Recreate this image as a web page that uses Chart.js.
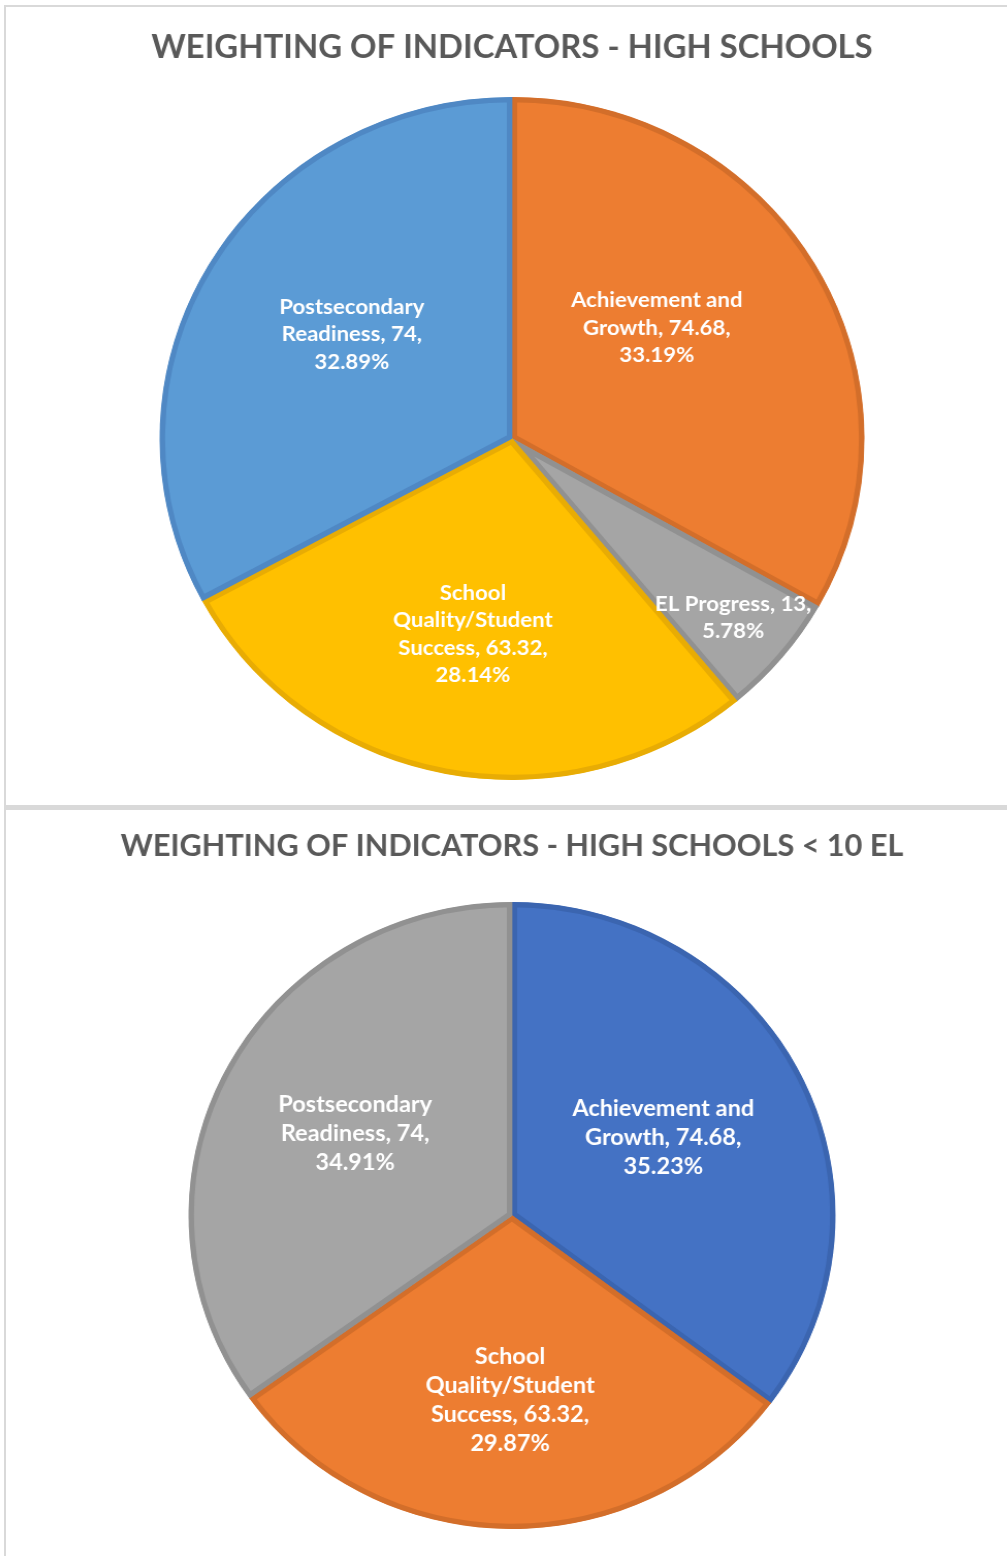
<!DOCTYPE html>
<html><head><meta charset="utf-8">
<script src="https://cdn.jsdelivr.net/npm/chart.js@4"></script>
<style>
html,body{margin:0;padding:0;background:#fff;}
body{width:1007px;height:1556px;position:relative;overflow:hidden;}
.frame{position:absolute;background:#d9d9d9;}
.wrap{position:absolute;left:0;width:1007px;transform:scaleX(1.032);transform-origin:512px 0;}
canvas{display:block;}
</style></head><body>
<div class="frame" style="left:4px;top:5px;width:1003px;height:2px"></div>
<div class="frame" style="left:4px;top:5px;width:2px;height:1551px"></div>
<div class="frame" style="left:4px;top:805px;width:1003px;height:5px"></div>
<div class="wrap" style="top:0;height:805px"><canvas id="c1" width="1007" height="805"></canvas></div>
<div class="wrap" style="top:806px;height:750px"><canvas id="c2" width="1007" height="750"></canvas></div>
<script>
// ---- data ----
const hsTitle = 'WEIGHTING OF INDICATORS - HIGH SCHOOLS';
const hsCategories = ['Achievement and Growth', 'EL Progress', 'School Quality/Student Success', 'Postsecondary Readiness'];
const hsValues = [74.68, 13, 63.32, 74];

const hs10Title = 'WEIGHTING OF INDICATORS - HIGH SCHOOLS < 10 EL';
const hs10Categories = ['Achievement and Growth', 'School Quality/Student Success', 'Postsecondary Readiness'];
const hs10Values = [74.68, 63.32, 74];

// ---- label plugin ----
function wrapText(ctx, text, maxW) {
  const words = text.split(' ');
  const lines = [];
  let cur = '';
  for (const w of words) {
    const t = cur ? cur + ' ' + w : w;
    if (cur && ctx.measureText(t).width > maxW) { lines.push(cur); cur = w; }
    else cur = t;
  }
  if (cur) lines.push(cur);
  return lines;
}
const sliceLabels = {
  id: 'sliceLabels',
  afterDatasetsDraw(chart, args, opts) {
    const ctx = chart.ctx;
    const ds = chart.data.datasets[0];
    const meta = chart.getDatasetMeta(0);
    const total = ds.data.reduce((a, b) => a + b, 0);
    ctx.save();
    ctx.font = 'bold ' + opts.size + 'px Lato';
    ctx.fillStyle = '#ffffff';
    ctx.textAlign = 'center';
    ctx.textBaseline = 'middle';
    meta.data.forEach((arc, i) => {
      const p = arc.getProps(['x', 'y', 'startAngle', 'endAngle', 'outerRadius'], true);
      const mid = (p.startAngle + p.endAngle) / 2 + (opts.angleShift[i] || 0) * Math.PI / 180;
      const r = p.outerRadius * opts.radial[i];
      const cx = p.x + Math.cos(mid) * r;
      const cy = p.y + Math.sin(mid) * r;
      const v = ds.data[i];
      const text = chart.data.labels[i] + ', ' + String(v) + ', ' + (v / total * 100).toFixed(2) + '%';
      const lines = wrapText(ctx, text, opts.maxWidth);
      lines.forEach((ln, k) => ctx.fillText(ln, cx, cy + (k - (lines.length - 1) / 2) * opts.lineHeight));
    });
    ctx.restore();
  }
};

function makePie(id, title, labels, values, colors, borders, cfg) {
  return new Chart(document.getElementById(id), {
    type: 'pie',
    data: {
      labels: labels,
      datasets: [{
        data: values,
        backgroundColor: colors,
        borderColor: borders,
        borderWidth: 5,
        borderAlign: 'inner'
      }]
    },
    options: {
      responsive: false,
      animation: false,
      devicePixelRatio: 1,
      layout: { padding: { left: 17, right: 0, top: 0, bottom: cfg.padBottom } },
      plugins: {
        legend: { display: false },
        tooltip: { enabled: false },
        title: {
          display: true,
          text: title,
          color: '#595959',
          font: { family: 'Lato', size: cfg.titleSize, weight: 'bold', lineHeight: 1.2 },
          padding: { top: cfg.titleTop, bottom: cfg.titleBottom }
        },
        sliceLabels: cfg.labels
      }
    },
    plugins: [sliceLabels]
  });
}

function draw() {
  makePie('c1', hsTitle, hsCategories, hsValues,
    ['#ED7D31', '#A5A5A5', '#FFC000', '#5B9BD5'],
    ['#D36E2A', '#919191', '#E8AC04', '#4F88C4'],
    { padBottom: 25, titleSize: 31.8, titleTop: 28.9, titleBottom: 29.9,
      labels: { size: 21.5, lineHeight: 27.5, maxWidth: 188,
        radial: [0.523, 0.818, 0.584, 0.547], angleShift: [-8, 0, 0, 3] } });
  makePie('c2', hs10Title, hs10Categories, hs10Values,
    ['#4472C4', '#ED7D31', '#A5A5A5'],
    ['#3B65B0', '#D36E2A', '#919191'],
    { padBottom: 27, titleSize: 29.7, titleTop: 22.7, titleBottom: 37.7,
      labels: { size: 22.8, lineHeight: 29, maxWidth: 200,
        radial: [0.53, 0.59, 0.55], angleShift: [-1.5, 0, 1] } });
}
if (document.fonts && document.fonts.load) {
  Promise.all([document.fonts.load('bold 20px Lato'), document.fonts.load('32px Lato')]).then(draw, draw);
} else draw();
</script>
</body></html>
